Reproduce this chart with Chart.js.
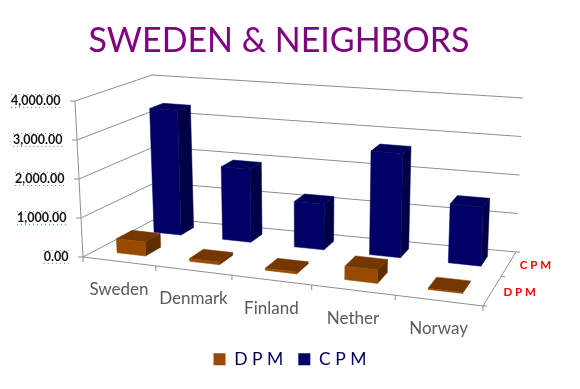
<!DOCTYPE html>
<html>
<head>
<meta charset="utf-8">
<style>html,body{margin:0;padding:0;background:#fff}canvas{display:block}</style>
<script src="https://cdn.jsdelivr.net/npm/chart.js@4"></script>
</head>
<body>
<canvas id="c" width="580" height="389"></canvas>
<script>
const categories = ['Sweden', 'Denmark', 'Finland', 'Nether', 'Norway'];
const dpmValues = [360, 70, 50, 330, 25];
const cpmValues = [3350, 1940, 1190, 2680, 1500];
const seriesNames = ['D P M', 'C P M'];
const yMax = 4000;
const yStep = 1000;

// Projection of the plot box: u along categories, v up the value axis, w into depth
const floorFL = [83, 257], floorFR = [483, 306], floorBL = [157, 218], floorBR = [516, 252];
const topFL = [75, 101], topFR = [490, 137], topBL = [152, 75], topBR = [523, 98];
const persp = (a, r) => a * r / (1 + (r - 1) * a);
const lerp = (a, b, t) => [a[0] + (b[0] - a[0]) * t, a[1] + (b[1] - a[1]) * t];
function project(u, v, w) {
  const s = persp(u, 0.89), t = persp(w, 1.2);
  const bot = lerp(lerp(floorFL, floorFR, s), lerp(floorBL, floorBR, s), t);
  const top = lerp(lerp(topFL, topFR, s), lerp(topBL, topBR, s), t);
  return lerp(bot, top, v);
}
const faces = [
  { front: '#974a00', top: '#743700', side: '#5f2d00' },
  { front: '#000066', top: '#000058', side: '#000047' }
];
function poly(ctx, pts, fill) {
  ctx.beginPath();
  pts.forEach((p, i) => i ? ctx.lineTo(p[0], p[1]) : ctx.moveTo(p[0], p[1]));
  ctx.closePath();
  ctx.fillStyle = fill;
  ctx.fill();
  ctx.strokeStyle = fill;
  ctx.lineWidth = 0.5;
  ctx.stroke();
}
function seg(ctx, a, b) {
  ctx.beginPath();
  ctx.moveTo(a[0], a[1]);
  ctx.lineTo(b[0], b[1]);
  ctx.stroke();
}

const box3d = {
  id: 'box3d',
  afterLayout(chart) {
    // the title sits a little left of the page centre
    chart.titleBlock.left -= 22;
  },
  beforeDatasetDraw() { return false; },
  beforeDatasetsDraw(chart) {
    const { ctx, scales: { x, y } } = chart;
    const val = t => (t.value - y.min) / (y.max - y.min);
    ctx.save();
    ctx.strokeStyle = '#8e8e8e';
    ctx.lineWidth = 1;
    y.ticks.forEach(t => {
      const v = val(t);
      seg(ctx, project(0, v, 0), project(0, v, 1));
      seg(ctx, project(0, v, 1), project(1, v, 1));
      const p = project(0, v, 0);
      seg(ctx, p, [p[0] - 5, p[1]]);
    });
    seg(ctx, project(0, 0, 0), project(0, 1, 0));
    seg(ctx, project(0, 0, 0), project(1, 0, 0));
    seg(ctx, project(1, 0, 0), project(1, 0, 1));
    for (let i = 0; i <= categories.length; i++) {
      const p = project(i / categories.length, 0, 0);
      seg(ctx, p, [p[0], p[1] + 5]);
    }
    for (let i = 0; i <= seriesNames.length; i++) {
      const p = project(1, 0, i / seriesNames.length);
      seg(ctx, p, [p[0] + 4, p[1]]);
    }
    ctx.restore();
  },
  afterDatasetsDraw(chart) {
    const { ctx, scales: { x, y } } = chart;
    const W = x.right - x.left, H = y.bottom - y.top;
    const val = t => (t.value - y.min) / (y.max - y.min);
    ctx.save();
    [1, 0].forEach(di => {
      const w0 = (di + 0.3) / 2, w1 = (di + 0.7) / 2, col = faces[di];
      chart.getDatasetMeta(di).data.forEach(bar => {
        const u0 = (bar.x - bar.width / 2 - x.left) / W;
        const u1 = (bar.x + bar.width / 2 - x.left) / W;
        const v = (y.bottom - bar.y) / H;
        poly(ctx, [project(u1, 0, w0), project(u1, 0, w1), project(u1, v, w1), project(u1, v, w0)], col.side);
        poly(ctx, [project(u0, v, w0), project(u1, v, w0), project(u1, v, w1), project(u0, v, w1)], col.top);
        poly(ctx, [project(u0, 0, w0), project(u1, 0, w0), project(u1, v, w0), project(u0, v, w0)], col.front);
      });
    });
    // value labels follow the slanted left edge
    ctx.textBaseline = 'middle';
    y.ticks.forEach(t => {
      const p = project(0, val(t), 0);
      ctx.font = 'bold 12.5px Lato';
      ctx.fillStyle = '#111111';
      ctx.textAlign = 'right';
      const ex = p[0] - 14.5;
      ctx.fillText(t.label, ex, p[1]);
      const wd = ctx.measureText(t.label).width;
      ctx.strokeStyle = '#3d8fd6';
      ctx.lineWidth = 1;
      ctx.setLineDash([1, 3]);
      seg(ctx, [ex - wd, p[1] - 6.5], [ex, p[1] - 6.5]);
      seg(ctx, [ex - wd, p[1] + 6.5], [ex, p[1] + 6.5]);
      ctx.setLineDash([]);
    });
    // category labels follow the front floor edge
    ctx.font = '17px Lato';
    ctx.fillStyle = '#595959';
    ctx.textAlign = 'center';
    categories.forEach((c, i) => {
      const p = project((x.getPixelForValue(i) - x.left) / W, 0, 0);
      ctx.fillText(c, p[0], p[1] + 28);
    });
    // series labels follow the right floor edge
    ctx.font = 'bold 11.5px Lato';
    ctx.fillStyle = '#ff0000';
    ctx.textAlign = 'left';
    chart.data.datasets.forEach((d, i) => {
      const p = project(1, 0, (i + 0.5) / 2);
      ctx.fillText(d.label, p[0] + 11, p[1] + 1.5);
    });
    ctx.restore();
  }
};

new Chart(document.getElementById('c'), {
  type: 'bar',
  plugins: [box3d],
  data: {
    labels: categories,
    datasets: [
      { label: seriesNames[0], data: dpmValues, backgroundColor: faces[0].front, grouped: false, barPercentage: 0.4, categoryPercentage: 1 },
      { label: seriesNames[1], data: cpmValues, backgroundColor: faces[1].front, grouped: false, barPercentage: 0.4, categoryPercentage: 1 }
    ]
  },
  options: {
    responsive: false,
    animation: false,
    layout: { padding: { left: 0, right: 0, top: 0, bottom: 11 } },
    plugins: {
      tooltip: { enabled: false },
      title: {
        display: true,
        text: 'SWEDEN & NEIGHBORS',
        color: '#800080',
        font: { family: 'Lato', size: 34, weight: 'normal', lineHeight: 1.2 },
        padding: { top: 20.5, bottom: 39.7 }
      },
      legend: {
        position: 'bottom',
        labels: { color: '#00005a', font: { family: 'Lato', size: 17.5 }, boxWidth: 12, boxHeight: 12, padding: 15 }
      }
    },
    scales: {
      x: {
        grid: { display: false },
        border: { display: false },
        ticks: { display: false },
        afterFit(s) { s.height = 83.5; }
      },
      y: {
        min: 0,
        max: yMax,
        grid: { display: false },
        border: { display: false },
        ticks: {
          display: false,
          stepSize: yStep,
          callback: v => v.toLocaleString('en-US', { minimumFractionDigits: 2, maximumFractionDigits: 2 })
        },
        afterFit(s) { s.width = 83; }
      }
    }
  }
});
</script>
</body>
</html>
